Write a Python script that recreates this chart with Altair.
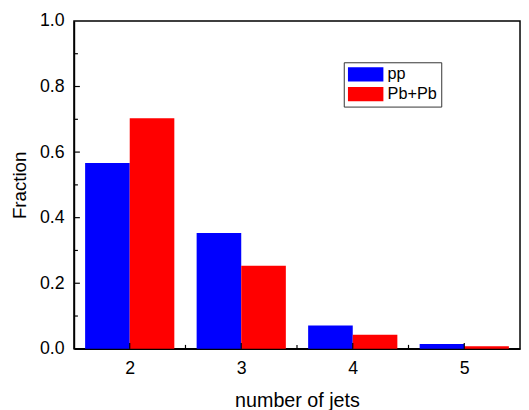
import altair as alt
import pandas as pd

# data
n_jets = [2, 3, 4, 5]
frac_pp = [0.567, 0.353, 0.071, 0.015]
frac_pbpb = [0.703, 0.253, 0.043, 0.008]
series_names = ["pp", "Pb+Pb"]
series_colors = ["#0000FF", "#FF0000"]

x_major = [2, 3, 4, 5]
x_minor = [2.5, 3.5, 4.5]
y_major = [0.2, 0.4, 0.6, 0.8]
y_minor = [0.1, 0.3, 0.5, 0.7, 0.9]

rows = []
for n, a, b in zip(n_jets, frac_pp, frac_pbpb):
    rows.append({"n": n, "series": "pp", "frac": a})
    rows.append({"n": n, "series": "Pb+Pb", "frac": b})
df = pd.DataFrame(rows)

W, H = 453, 333
FONT = "Liberation Sans"

xscale = alt.Scale(domain=[1.5, 5.5], nice=False, zero=False)
yscale = alt.Scale(domain=[0, 1], nice=False)
xaxis = alt.Axis(values=x_major, format="d", ticks=False, labelPadding=11,
                 titlePadding=14, grid=False, titleFontSize=20)
yaxis = alt.Axis(values=[0, 0.2, 0.4, 0.6, 0.8, 1.0], format=".1f", ticks=False,
                 labelPadding=10, titlePadding=10, grid=False, titleFontSize=19)

bars = alt.Chart(df).transform_calculate(
    x0="datum.series == 'pp' ? datum.n - 0.4 : datum.n",
    x1="datum.series == 'pp' ? datum.n : datum.n + 0.4",
).mark_rect().encode(
    x=alt.X("x0:Q", scale=xscale, axis=xaxis, title="number of jets"),
    x2="x1:Q",
    y=alt.Y("frac:Q", scale=yscale, axis=yaxis, title="Fraction"),
    y2=alt.datum(0),
    color=alt.Color(
        "series:N",
        scale=alt.Scale(domain=series_names, range=series_colors),
        legend=alt.Legend(
            title=None, orient="none", legendX=274, legendY=42,
            direction="vertical",
            symbolType="M-1,-0.9H3.5V0.9H-1Z", symbolSize=256,
            symbolStrokeWidth=0, labelFontSize=16.5, labelFont=FONT,
            labelColor="black",
            labelOffset=24, rowPadding=3, padding=4,
            strokeColor="#333333", fillColor="white",
        ),
    ),
)

def xticks(vals, length):
    return alt.Chart(pd.DataFrame({"x0": vals})).mark_rule(
        color="black", strokeWidth=1.2
    ).encode(
        x=alt.X("x0:Q", scale=xscale, axis=xaxis, title="number of jets"),
        y=alt.value(H), y2=alt.value(H - length),
    )

def yticks(vals, length):
    return alt.Chart(pd.DataFrame({"frac": vals})).mark_rule(
        color="black", strokeWidth=1.2
    ).encode(
        y=alt.Y("frac:Q", scale=yscale, axis=yaxis, title="Fraction"),
        x=alt.value(0), x2=alt.value(length),
    )

chart = alt.layer(
    bars,
    xticks(x_major, 6), xticks(x_minor, 4),
    yticks(y_major, 6), yticks(y_minor, 4),
).properties(
    width=W, height=H,
    autosize=alt.AutoSizeParams(type="none"),
    padding={"left": 67, "top": 10, "right": 1, "bottom": 59},
).configure_view(
    stroke="black", strokeWidth=1.5
).configure_axis(
    domainColor="black", domainWidth=1.5,
    labelFont=FONT, titleFont=FONT, labelFontSize=18,
    labelColor="black", titleColor="black", titleFontWeight="normal",
)

chart.save("out.html", embed_options={"renderer": "svg", "actions": False})
